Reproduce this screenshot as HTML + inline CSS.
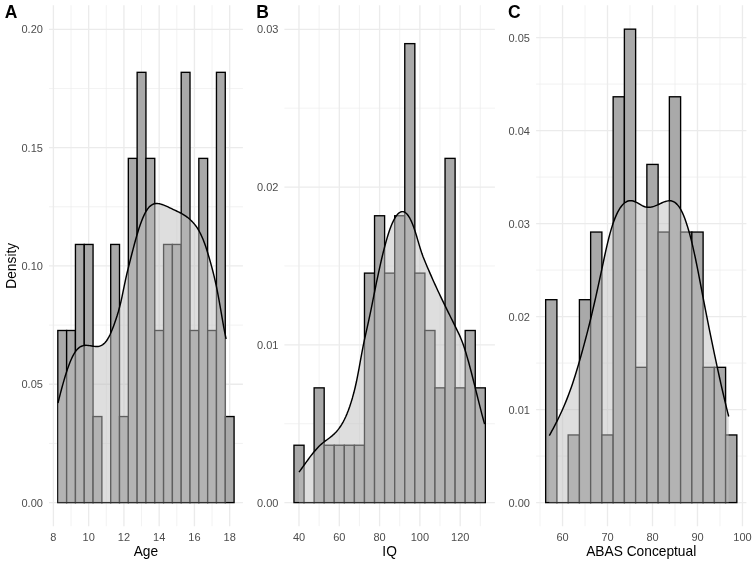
<!DOCTYPE html>
<html><head><meta charset="utf-8"><title>Histograms</title>
<style>
html,body{margin:0;padding:0;background:#fff;}
svg{display:block;font-family:"Liberation Sans",Arial,Helvetica,sans-serif;}
.mj{stroke:#ebebeb;stroke-width:1.33;}
.mn{stroke:#ebebeb;stroke-width:0.67;}
.bar{fill:#a9a9a9;stroke:#000;stroke-width:1.35;stroke-linejoin:miter;}
.dfill{fill:rgba(190,190,190,0.5);stroke:none;}
.dline{fill:none;stroke:#000;stroke-width:1.45;stroke-linejoin:round;stroke-linecap:butt;}
.tk{font-size:11px;fill:#4d4d4d;}
.ti{font-size:13.75px;fill:#000;}
.tag{font-size:17.5px;font-weight:bold;fill:#000;}
</style></head><body>
<svg width="756" height="564" viewBox="0 0 756 564">
<rect width="756" height="564" fill="#fff"/>
<line x1="49.0" x2="242.9" y1="443.44" y2="443.44" class="mn"/>
<line x1="49.0" x2="242.9" y1="325.11" y2="325.11" class="mn"/>
<line x1="49.0" x2="242.9" y1="206.79" y2="206.79" class="mn"/>
<line x1="49.0" x2="242.9" y1="88.46" y2="88.46" class="mn"/>
<line x1="71.03" x2="71.03" y1="5.2" y2="526.2" class="mn"/>
<line x1="106.29" x2="106.29" y1="5.2" y2="526.2" class="mn"/>
<line x1="141.54" x2="141.54" y1="5.2" y2="526.2" class="mn"/>
<line x1="176.80" x2="176.80" y1="5.2" y2="526.2" class="mn"/>
<line x1="212.05" x2="212.05" y1="5.2" y2="526.2" class="mn"/>
<line x1="49.0" x2="242.9" y1="502.60" y2="502.60" class="mj"/>
<line x1="49.0" x2="242.9" y1="384.28" y2="384.28" class="mj"/>
<line x1="49.0" x2="242.9" y1="265.95" y2="265.95" class="mj"/>
<line x1="49.0" x2="242.9" y1="147.63" y2="147.63" class="mj"/>
<line x1="49.0" x2="242.9" y1="29.30" y2="29.30" class="mj"/>
<line x1="53.41" x2="53.41" y1="5.2" y2="526.2" class="mj"/>
<line x1="88.66" x2="88.66" y1="5.2" y2="526.2" class="mj"/>
<line x1="123.92" x2="123.92" y1="5.2" y2="526.2" class="mj"/>
<line x1="159.17" x2="159.17" y1="5.2" y2="526.2" class="mj"/>
<line x1="194.43" x2="194.43" y1="5.2" y2="526.2" class="mj"/>
<line x1="229.68" x2="229.68" y1="5.2" y2="526.2" class="mj"/>
<rect x="57.81" y="330.49" width="8.81" height="172.11" class="bar"/>
<rect x="66.63" y="330.49" width="8.81" height="172.11" class="bar"/>
<rect x="75.44" y="244.44" width="8.81" height="258.16" class="bar"/>
<rect x="84.25" y="244.44" width="8.81" height="258.16" class="bar"/>
<rect x="93.07" y="416.55" width="8.81" height="86.05" class="bar"/>
<path d="M101.21,502.6H111.37" class="bar"/>
<rect x="110.70" y="244.44" width="8.81" height="258.16" class="bar"/>
<rect x="119.51" y="416.55" width="8.81" height="86.05" class="bar"/>
<rect x="128.32" y="158.38" width="8.81" height="344.22" class="bar"/>
<rect x="137.14" y="72.33" width="8.81" height="430.27" class="bar"/>
<rect x="145.95" y="158.38" width="8.81" height="344.22" class="bar"/>
<rect x="154.76" y="330.49" width="8.81" height="172.11" class="bar"/>
<rect x="163.58" y="244.44" width="8.81" height="258.16" class="bar"/>
<rect x="172.39" y="244.44" width="8.81" height="258.16" class="bar"/>
<rect x="181.20" y="72.33" width="8.81" height="430.27" class="bar"/>
<rect x="190.02" y="330.49" width="8.81" height="172.11" class="bar"/>
<rect x="198.83" y="158.38" width="8.81" height="344.22" class="bar"/>
<rect x="207.65" y="330.49" width="8.81" height="172.11" class="bar"/>
<rect x="216.46" y="72.33" width="8.81" height="430.27" class="bar"/>
<rect x="225.27" y="416.55" width="8.81" height="86.05" class="bar"/>
<path d="M58.00,402.96 L59.21,398.11 L60.42,393.39 L61.63,388.81 L62.84,384.39 L64.05,380.14 L65.26,376.08 L66.47,372.23 L67.67,368.61 L68.88,365.21 L70.09,362.07 L71.30,359.20 L72.51,356.61 L73.72,354.32 L74.93,352.33 L76.14,350.65 L77.35,349.25 L78.56,348.10 L79.77,347.18 L80.98,346.48 L82.19,345.97 L83.40,345.62 L84.61,345.42 L85.82,345.34 L87.02,345.36 L88.23,345.47 L89.44,345.63 L90.65,345.82 L91.86,346.03 L93.07,346.22 L94.28,346.39 L95.49,346.50 L96.70,346.52 L97.91,346.45 L99.12,346.24 L100.33,345.88 L101.54,345.35 L102.75,344.62 L103.96,343.67 L105.16,342.47 L106.37,341.00 L107.58,339.23 L108.79,337.15 L110.00,334.74 L111.21,332.04 L112.42,329.09 L113.63,325.95 L114.84,322.62 L116.05,319.09 L117.26,315.32 L118.47,311.24 L119.68,306.78 L120.89,301.84 L122.10,296.35 L123.31,290.47 L124.51,284.52 L125.72,278.80 L126.93,273.52 L128.14,268.56 L129.35,263.77 L130.56,259.03 L131.77,254.30 L132.98,249.62 L134.19,245.02 L135.40,240.56 L136.61,236.27 L137.82,232.18 L139.03,228.33 L140.24,224.74 L141.45,221.41 L142.65,218.36 L143.86,215.60 L145.07,213.14 L146.28,210.98 L147.49,209.13 L148.70,207.59 L149.91,206.33 L151.12,205.33 L152.33,204.57 L153.54,204.03 L154.75,203.69 L155.96,203.51 L157.17,203.49 L158.38,203.60 L159.59,203.81 L160.79,204.11 L162.00,204.47 L163.21,204.89 L164.42,205.35 L165.63,205.86 L166.84,206.40 L168.05,206.96 L169.26,207.54 L170.47,208.12 L171.68,208.70 L172.89,209.28 L174.10,209.85 L175.31,210.41 L176.52,210.97 L177.73,211.55 L178.94,212.14 L180.14,212.76 L181.35,213.40 L182.56,214.08 L183.77,214.81 L184.98,215.58 L186.19,216.41 L187.40,217.30 L188.61,218.26 L189.82,219.30 L191.03,220.42 L192.24,221.63 L193.45,222.94 L194.66,224.38 L195.87,225.96 L197.08,227.70 L198.28,229.63 L199.49,231.75 L200.70,234.10 L201.91,236.69 L203.12,239.54 L204.33,242.67 L205.54,246.10 L206.75,249.78 L207.96,253.68 L209.17,257.76 L210.38,261.97 L211.59,266.35 L212.80,270.95 L214.01,275.82 L215.22,281.02 L216.43,286.59 L217.63,292.58 L218.84,299.03 L220.05,305.87 L221.26,312.90 L222.47,319.93 L223.68,326.76 L224.89,333.19 L226.10,339.02 L226.10,502.6 L58.00,502.6 Z" class="dfill"/>
<path d="M58.00,402.96 L59.21,398.11 L60.42,393.39 L61.63,388.81 L62.84,384.39 L64.05,380.14 L65.26,376.08 L66.47,372.23 L67.67,368.61 L68.88,365.21 L70.09,362.07 L71.30,359.20 L72.51,356.61 L73.72,354.32 L74.93,352.33 L76.14,350.65 L77.35,349.25 L78.56,348.10 L79.77,347.18 L80.98,346.48 L82.19,345.97 L83.40,345.62 L84.61,345.42 L85.82,345.34 L87.02,345.36 L88.23,345.47 L89.44,345.63 L90.65,345.82 L91.86,346.03 L93.07,346.22 L94.28,346.39 L95.49,346.50 L96.70,346.52 L97.91,346.45 L99.12,346.24 L100.33,345.88 L101.54,345.35 L102.75,344.62 L103.96,343.67 L105.16,342.47 L106.37,341.00 L107.58,339.23 L108.79,337.15 L110.00,334.74 L111.21,332.04 L112.42,329.09 L113.63,325.95 L114.84,322.62 L116.05,319.09 L117.26,315.32 L118.47,311.24 L119.68,306.78 L120.89,301.84 L122.10,296.35 L123.31,290.47 L124.51,284.52 L125.72,278.80 L126.93,273.52 L128.14,268.56 L129.35,263.77 L130.56,259.03 L131.77,254.30 L132.98,249.62 L134.19,245.02 L135.40,240.56 L136.61,236.27 L137.82,232.18 L139.03,228.33 L140.24,224.74 L141.45,221.41 L142.65,218.36 L143.86,215.60 L145.07,213.14 L146.28,210.98 L147.49,209.13 L148.70,207.59 L149.91,206.33 L151.12,205.33 L152.33,204.57 L153.54,204.03 L154.75,203.69 L155.96,203.51 L157.17,203.49 L158.38,203.60 L159.59,203.81 L160.79,204.11 L162.00,204.47 L163.21,204.89 L164.42,205.35 L165.63,205.86 L166.84,206.40 L168.05,206.96 L169.26,207.54 L170.47,208.12 L171.68,208.70 L172.89,209.28 L174.10,209.85 L175.31,210.41 L176.52,210.97 L177.73,211.55 L178.94,212.14 L180.14,212.76 L181.35,213.40 L182.56,214.08 L183.77,214.81 L184.98,215.58 L186.19,216.41 L187.40,217.30 L188.61,218.26 L189.82,219.30 L191.03,220.42 L192.24,221.63 L193.45,222.94 L194.66,224.38 L195.87,225.96 L197.08,227.70 L198.28,229.63 L199.49,231.75 L200.70,234.10 L201.91,236.69 L203.12,239.54 L204.33,242.67 L205.54,246.10 L206.75,249.78 L207.96,253.68 L209.17,257.76 L210.38,261.97 L211.59,266.35 L212.80,270.95 L214.01,275.82 L215.22,281.02 L216.43,286.59 L217.63,292.58 L218.84,299.03 L220.05,305.87 L221.26,312.90 L222.47,319.93 L223.68,326.76 L224.89,333.19 L226.10,339.02" class="dline"/>
<text x="42.9" y="506.5" class="tk" text-anchor="end">0.00</text>
<text x="42.9" y="388.2" class="tk" text-anchor="end">0.05</text>
<text x="42.9" y="269.9" class="tk" text-anchor="end">0.10</text>
<text x="42.9" y="151.5" class="tk" text-anchor="end">0.15</text>
<text x="42.9" y="33.2" class="tk" text-anchor="end">0.20</text>
<text x="53.4" y="540.8" class="tk" text-anchor="middle">8</text>
<text x="88.7" y="540.8" class="tk" text-anchor="middle">10</text>
<text x="123.9" y="540.8" class="tk" text-anchor="middle">12</text>
<text x="159.2" y="540.8" class="tk" text-anchor="middle">14</text>
<text x="194.4" y="540.8" class="tk" text-anchor="middle">16</text>
<text x="229.7" y="540.8" class="tk" text-anchor="middle">18</text>
<text x="145.9" y="555.9" class="ti" text-anchor="middle">Age</text>
<text x="4.8" y="17.7" class="tag">A</text>
<text transform="translate(16.3,265.8) rotate(-90)" class="ti" text-anchor="middle">Density</text>
<line x1="284.4" x2="494.9" y1="423.72" y2="423.72" class="mn"/>
<line x1="284.4" x2="494.9" y1="265.95" y2="265.95" class="mn"/>
<line x1="284.4" x2="494.9" y1="108.18" y2="108.18" class="mn"/>
<line x1="319.15" x2="319.15" y1="5.2" y2="526.2" class="mn"/>
<line x1="359.43" x2="359.43" y1="5.2" y2="526.2" class="mn"/>
<line x1="399.72" x2="399.72" y1="5.2" y2="526.2" class="mn"/>
<line x1="440.01" x2="440.01" y1="5.2" y2="526.2" class="mn"/>
<line x1="480.30" x2="480.30" y1="5.2" y2="526.2" class="mn"/>
<line x1="284.4" x2="494.9" y1="502.60" y2="502.60" class="mj"/>
<line x1="284.4" x2="494.9" y1="344.83" y2="344.83" class="mj"/>
<line x1="284.4" x2="494.9" y1="187.06" y2="187.06" class="mj"/>
<line x1="284.4" x2="494.9" y1="29.29" y2="29.29" class="mj"/>
<line x1="299.00" x2="299.00" y1="5.2" y2="526.2" class="mj"/>
<line x1="339.29" x2="339.29" y1="5.2" y2="526.2" class="mj"/>
<line x1="379.58" x2="379.58" y1="5.2" y2="526.2" class="mj"/>
<line x1="419.87" x2="419.87" y1="5.2" y2="526.2" class="mj"/>
<line x1="460.15" x2="460.15" y1="5.2" y2="526.2" class="mj"/>
<rect x="293.97" y="445.23" width="10.07" height="57.37" class="bar"/>
<path d="M303.37,502.6H314.78" class="bar"/>
<rect x="314.11" y="387.86" width="10.07" height="114.74" class="bar"/>
<rect x="324.18" y="445.23" width="10.07" height="57.37" class="bar"/>
<rect x="334.26" y="445.23" width="10.07" height="57.37" class="bar"/>
<rect x="344.33" y="445.23" width="10.07" height="57.37" class="bar"/>
<rect x="354.40" y="445.23" width="10.07" height="57.37" class="bar"/>
<rect x="364.47" y="273.12" width="10.07" height="229.48" class="bar"/>
<rect x="374.54" y="215.75" width="10.07" height="286.85" class="bar"/>
<rect x="384.61" y="273.12" width="10.07" height="229.48" class="bar"/>
<rect x="394.69" y="215.75" width="10.07" height="286.85" class="bar"/>
<rect x="404.76" y="43.63" width="10.07" height="458.97" class="bar"/>
<rect x="414.83" y="273.12" width="10.07" height="229.48" class="bar"/>
<rect x="424.90" y="330.49" width="10.07" height="172.11" class="bar"/>
<rect x="434.97" y="387.86" width="10.07" height="114.74" class="bar"/>
<rect x="445.04" y="158.37" width="10.07" height="344.23" class="bar"/>
<rect x="455.12" y="387.86" width="10.07" height="114.74" class="bar"/>
<rect x="465.19" y="330.49" width="10.07" height="172.11" class="bar"/>
<rect x="475.26" y="387.86" width="10.07" height="114.74" class="bar"/>
<path d="M299.00,472.18 L300.34,470.35 L301.67,468.50 L303.01,466.64 L304.34,464.77 L305.68,462.91 L307.01,461.06 L308.35,459.23 L309.68,457.43 L311.02,455.67 L312.35,453.95 L313.69,452.29 L315.02,450.68 L316.36,449.15 L317.69,447.69 L319.03,446.31 L320.36,445.03 L321.70,443.85 L323.03,442.74 L324.37,441.70 L325.71,440.69 L327.04,439.71 L328.38,438.73 L329.71,437.72 L331.05,436.68 L332.38,435.57 L333.72,434.39 L335.05,433.10 L336.39,431.69 L337.72,430.14 L339.06,428.42 L340.39,426.52 L341.73,424.42 L343.06,422.10 L344.40,419.53 L345.73,416.70 L347.07,413.59 L348.40,410.18 L349.74,406.44 L351.07,402.36 L352.41,397.92 L353.75,393.06 L355.08,387.71 L356.42,381.78 L357.75,375.20 L359.09,368.02 L360.42,360.58 L361.76,353.27 L363.09,346.40 L364.43,339.96 L365.76,333.81 L367.10,327.81 L368.43,321.82 L369.77,315.71 L371.10,309.33 L372.44,302.71 L373.77,295.98 L375.11,289.28 L376.44,282.72 L377.78,276.31 L379.12,270.08 L380.45,264.06 L381.79,258.27 L383.12,252.72 L384.46,247.46 L385.79,242.48 L387.13,237.83 L388.46,233.52 L389.80,229.58 L391.13,226.02 L392.47,222.83 L393.80,220.04 L395.14,217.63 L396.47,215.62 L397.81,214.01 L399.14,212.80 L400.48,212.00 L401.81,211.62 L403.15,211.65 L404.48,212.11 L405.82,212.99 L407.16,214.30 L408.49,216.05 L409.83,218.24 L411.16,220.87 L412.50,223.95 L413.83,227.49 L415.17,231.48 L416.50,235.82 L417.84,240.34 L419.17,244.89 L420.51,249.29 L421.84,253.37 L423.18,257.03 L424.51,260.35 L425.85,263.52 L427.18,266.66 L428.52,269.77 L429.85,272.86 L431.19,275.91 L432.53,278.94 L433.86,281.93 L435.20,284.89 L436.53,287.81 L437.87,290.69 L439.20,293.54 L440.54,296.36 L441.87,299.16 L443.21,301.93 L444.54,304.68 L445.88,307.41 L447.21,310.13 L448.55,312.84 L449.88,315.54 L451.22,318.24 L452.55,320.94 L453.89,323.65 L455.22,326.36 L456.56,329.08 L457.89,331.82 L459.23,334.65 L460.57,337.66 L461.90,340.95 L463.24,344.58 L464.57,348.55 L465.91,352.81 L467.24,357.33 L468.58,362.06 L469.91,366.98 L471.25,372.04 L472.58,377.23 L473.92,382.51 L475.25,387.85 L476.59,393.22 L477.92,398.59 L479.26,403.92 L480.59,409.17 L481.93,414.31 L483.26,419.30 L484.60,424.10 L484.60,502.6 L299.00,502.6 Z" class="dfill"/>
<path d="M299.00,472.18 L300.34,470.35 L301.67,468.50 L303.01,466.64 L304.34,464.77 L305.68,462.91 L307.01,461.06 L308.35,459.23 L309.68,457.43 L311.02,455.67 L312.35,453.95 L313.69,452.29 L315.02,450.68 L316.36,449.15 L317.69,447.69 L319.03,446.31 L320.36,445.03 L321.70,443.85 L323.03,442.74 L324.37,441.70 L325.71,440.69 L327.04,439.71 L328.38,438.73 L329.71,437.72 L331.05,436.68 L332.38,435.57 L333.72,434.39 L335.05,433.10 L336.39,431.69 L337.72,430.14 L339.06,428.42 L340.39,426.52 L341.73,424.42 L343.06,422.10 L344.40,419.53 L345.73,416.70 L347.07,413.59 L348.40,410.18 L349.74,406.44 L351.07,402.36 L352.41,397.92 L353.75,393.06 L355.08,387.71 L356.42,381.78 L357.75,375.20 L359.09,368.02 L360.42,360.58 L361.76,353.27 L363.09,346.40 L364.43,339.96 L365.76,333.81 L367.10,327.81 L368.43,321.82 L369.77,315.71 L371.10,309.33 L372.44,302.71 L373.77,295.98 L375.11,289.28 L376.44,282.72 L377.78,276.31 L379.12,270.08 L380.45,264.06 L381.79,258.27 L383.12,252.72 L384.46,247.46 L385.79,242.48 L387.13,237.83 L388.46,233.52 L389.80,229.58 L391.13,226.02 L392.47,222.83 L393.80,220.04 L395.14,217.63 L396.47,215.62 L397.81,214.01 L399.14,212.80 L400.48,212.00 L401.81,211.62 L403.15,211.65 L404.48,212.11 L405.82,212.99 L407.16,214.30 L408.49,216.05 L409.83,218.24 L411.16,220.87 L412.50,223.95 L413.83,227.49 L415.17,231.48 L416.50,235.82 L417.84,240.34 L419.17,244.89 L420.51,249.29 L421.84,253.37 L423.18,257.03 L424.51,260.35 L425.85,263.52 L427.18,266.66 L428.52,269.77 L429.85,272.86 L431.19,275.91 L432.53,278.94 L433.86,281.93 L435.20,284.89 L436.53,287.81 L437.87,290.69 L439.20,293.54 L440.54,296.36 L441.87,299.16 L443.21,301.93 L444.54,304.68 L445.88,307.41 L447.21,310.13 L448.55,312.84 L449.88,315.54 L451.22,318.24 L452.55,320.94 L453.89,323.65 L455.22,326.36 L456.56,329.08 L457.89,331.82 L459.23,334.65 L460.57,337.66 L461.90,340.95 L463.24,344.58 L464.57,348.55 L465.91,352.81 L467.24,357.33 L468.58,362.06 L469.91,366.98 L471.25,372.04 L472.58,377.23 L473.92,382.51 L475.25,387.85 L476.59,393.22 L477.92,398.59 L479.26,403.92 L480.59,409.17 L481.93,414.31 L483.26,419.30 L484.60,424.10" class="dline"/>
<text x="278.4" y="506.5" class="tk" text-anchor="end">0.00</text>
<text x="278.4" y="348.7" class="tk" text-anchor="end">0.01</text>
<text x="278.4" y="191.0" class="tk" text-anchor="end">0.02</text>
<text x="278.4" y="33.2" class="tk" text-anchor="end">0.03</text>
<text x="299.0" y="540.8" class="tk" text-anchor="middle">40</text>
<text x="339.3" y="540.8" class="tk" text-anchor="middle">60</text>
<text x="379.6" y="540.8" class="tk" text-anchor="middle">80</text>
<text x="419.9" y="540.8" class="tk" text-anchor="middle">100</text>
<text x="460.2" y="540.8" class="tk" text-anchor="middle">120</text>
<text x="389.6" y="555.9" class="ti" text-anchor="middle">IQ</text>
<text x="256.2" y="17.7" class="tag">B</text>
<line x1="536.1" x2="746.4" y1="456.10" y2="456.10" class="mn"/>
<line x1="536.1" x2="746.4" y1="363.10" y2="363.10" class="mn"/>
<line x1="536.1" x2="746.4" y1="270.10" y2="270.10" class="mn"/>
<line x1="536.1" x2="746.4" y1="177.10" y2="177.10" class="mn"/>
<line x1="536.1" x2="746.4" y1="84.10" y2="84.10" class="mn"/>
<line x1="540.04" x2="540.04" y1="5.2" y2="526.2" class="mn"/>
<line x1="585.02" x2="585.02" y1="5.2" y2="526.2" class="mn"/>
<line x1="630.00" x2="630.00" y1="5.2" y2="526.2" class="mn"/>
<line x1="674.99" x2="674.99" y1="5.2" y2="526.2" class="mn"/>
<line x1="719.97" x2="719.97" y1="5.2" y2="526.2" class="mn"/>
<line x1="536.1" x2="746.4" y1="502.60" y2="502.60" class="mj"/>
<line x1="536.1" x2="746.4" y1="409.60" y2="409.60" class="mj"/>
<line x1="536.1" x2="746.4" y1="316.60" y2="316.60" class="mj"/>
<line x1="536.1" x2="746.4" y1="223.60" y2="223.60" class="mj"/>
<line x1="536.1" x2="746.4" y1="130.60" y2="130.60" class="mj"/>
<line x1="536.1" x2="746.4" y1="37.60" y2="37.60" class="mj"/>
<line x1="562.53" x2="562.53" y1="5.2" y2="526.2" class="mj"/>
<line x1="607.51" x2="607.51" y1="5.2" y2="526.2" class="mj"/>
<line x1="652.50" x2="652.50" y1="5.2" y2="526.2" class="mj"/>
<line x1="697.48" x2="697.48" y1="5.2" y2="526.2" class="mj"/>
<line x1="742.46" x2="742.46" y1="5.2" y2="526.2" class="mj"/>
<rect x="545.66" y="299.69" width="11.25" height="202.91" class="bar"/>
<path d="M556.24,502.6H568.82" class="bar"/>
<rect x="568.15" y="434.96" width="11.25" height="67.64" class="bar"/>
<rect x="579.40" y="299.69" width="11.25" height="202.91" class="bar"/>
<rect x="590.64" y="232.05" width="11.25" height="270.55" class="bar"/>
<rect x="601.89" y="434.96" width="11.25" height="67.64" class="bar"/>
<rect x="613.14" y="96.78" width="11.25" height="405.82" class="bar"/>
<rect x="624.38" y="29.15" width="11.25" height="473.45" class="bar"/>
<rect x="635.63" y="367.33" width="11.25" height="135.27" class="bar"/>
<rect x="646.87" y="164.42" width="11.25" height="338.18" class="bar"/>
<rect x="658.12" y="232.05" width="11.25" height="270.55" class="bar"/>
<rect x="669.36" y="96.78" width="11.25" height="405.82" class="bar"/>
<rect x="680.61" y="232.05" width="11.25" height="270.55" class="bar"/>
<rect x="691.86" y="232.05" width="11.25" height="270.55" class="bar"/>
<rect x="703.10" y="367.33" width="11.25" height="135.27" class="bar"/>
<rect x="714.35" y="367.33" width="11.25" height="135.27" class="bar"/>
<rect x="725.59" y="434.96" width="11.25" height="67.64" class="bar"/>
<path d="M549.30,435.63 L550.59,433.29 L551.88,430.93 L553.17,428.54 L554.46,426.10 L555.75,423.61 L557.04,421.07 L558.33,418.46 L559.63,415.78 L560.92,413.03 L562.21,410.19 L563.50,407.26 L564.79,404.24 L566.08,401.11 L567.37,397.87 L568.66,394.51 L569.95,391.03 L571.24,387.42 L572.53,383.67 L573.82,379.77 L575.11,375.73 L576.40,371.56 L577.69,367.27 L578.98,362.86 L580.28,358.35 L581.57,353.76 L582.86,349.08 L584.15,344.34 L585.44,339.52 L586.73,334.60 L588.02,329.59 L589.31,324.48 L590.60,319.24 L591.89,313.88 L593.18,308.38 L594.47,302.77 L595.76,297.05 L597.05,291.24 L598.34,285.34 L599.64,279.38 L600.93,273.37 L602.22,267.31 L603.51,261.25 L604.80,255.27 L606.09,249.43 L607.38,243.82 L608.67,238.53 L609.96,233.61 L611.25,229.11 L612.54,225.00 L613.83,221.26 L615.12,217.88 L616.41,214.86 L617.70,212.16 L618.99,209.79 L620.29,207.72 L621.58,205.95 L622.87,204.46 L624.16,203.24 L625.45,202.27 L626.74,201.54 L628.03,201.04 L629.32,200.75 L630.61,200.66 L631.90,200.76 L633.19,201.04 L634.48,201.47 L635.77,202.04 L637.06,202.71 L638.35,203.44 L639.65,204.19 L640.94,204.94 L642.23,205.63 L643.52,206.23 L644.81,206.71 L646.10,207.04 L647.39,207.22 L648.68,207.26 L649.97,207.19 L651.26,207.01 L652.55,206.73 L653.84,206.36 L655.13,205.91 L656.42,205.40 L657.71,204.84 L659.01,204.24 L660.30,203.63 L661.59,203.02 L662.88,202.44 L664.17,201.91 L665.46,201.46 L666.75,201.10 L668.04,200.86 L669.33,200.75 L670.62,200.82 L671.91,201.06 L673.20,201.52 L674.49,202.20 L675.78,203.14 L677.07,204.35 L678.36,205.86 L679.66,207.69 L680.95,209.86 L682.24,212.39 L683.53,215.29 L684.82,218.56 L686.11,222.18 L687.40,226.16 L688.69,230.48 L689.98,235.13 L691.27,240.12 L692.56,245.44 L693.85,251.07 L695.14,257.02 L696.43,263.23 L697.72,269.67 L699.02,276.28 L700.31,282.99 L701.60,289.76 L702.89,296.52 L704.18,303.24 L705.47,309.87 L706.76,316.43 L708.05,322.92 L709.34,329.33 L710.63,335.67 L711.92,341.95 L713.21,348.16 L714.50,354.30 L715.79,360.39 L717.08,366.42 L718.37,372.39 L719.67,378.28 L720.96,384.06 L722.25,389.72 L723.54,395.28 L724.83,400.73 L726.12,406.08 L727.41,411.34 L728.70,416.52 L728.70,502.6 L549.30,502.6 Z" class="dfill"/>
<path d="M549.30,435.63 L550.59,433.29 L551.88,430.93 L553.17,428.54 L554.46,426.10 L555.75,423.61 L557.04,421.07 L558.33,418.46 L559.63,415.78 L560.92,413.03 L562.21,410.19 L563.50,407.26 L564.79,404.24 L566.08,401.11 L567.37,397.87 L568.66,394.51 L569.95,391.03 L571.24,387.42 L572.53,383.67 L573.82,379.77 L575.11,375.73 L576.40,371.56 L577.69,367.27 L578.98,362.86 L580.28,358.35 L581.57,353.76 L582.86,349.08 L584.15,344.34 L585.44,339.52 L586.73,334.60 L588.02,329.59 L589.31,324.48 L590.60,319.24 L591.89,313.88 L593.18,308.38 L594.47,302.77 L595.76,297.05 L597.05,291.24 L598.34,285.34 L599.64,279.38 L600.93,273.37 L602.22,267.31 L603.51,261.25 L604.80,255.27 L606.09,249.43 L607.38,243.82 L608.67,238.53 L609.96,233.61 L611.25,229.11 L612.54,225.00 L613.83,221.26 L615.12,217.88 L616.41,214.86 L617.70,212.16 L618.99,209.79 L620.29,207.72 L621.58,205.95 L622.87,204.46 L624.16,203.24 L625.45,202.27 L626.74,201.54 L628.03,201.04 L629.32,200.75 L630.61,200.66 L631.90,200.76 L633.19,201.04 L634.48,201.47 L635.77,202.04 L637.06,202.71 L638.35,203.44 L639.65,204.19 L640.94,204.94 L642.23,205.63 L643.52,206.23 L644.81,206.71 L646.10,207.04 L647.39,207.22 L648.68,207.26 L649.97,207.19 L651.26,207.01 L652.55,206.73 L653.84,206.36 L655.13,205.91 L656.42,205.40 L657.71,204.84 L659.01,204.24 L660.30,203.63 L661.59,203.02 L662.88,202.44 L664.17,201.91 L665.46,201.46 L666.75,201.10 L668.04,200.86 L669.33,200.75 L670.62,200.82 L671.91,201.06 L673.20,201.52 L674.49,202.20 L675.78,203.14 L677.07,204.35 L678.36,205.86 L679.66,207.69 L680.95,209.86 L682.24,212.39 L683.53,215.29 L684.82,218.56 L686.11,222.18 L687.40,226.16 L688.69,230.48 L689.98,235.13 L691.27,240.12 L692.56,245.44 L693.85,251.07 L695.14,257.02 L696.43,263.23 L697.72,269.67 L699.02,276.28 L700.31,282.99 L701.60,289.76 L702.89,296.52 L704.18,303.24 L705.47,309.87 L706.76,316.43 L708.05,322.92 L709.34,329.33 L710.63,335.67 L711.92,341.95 L713.21,348.16 L714.50,354.30 L715.79,360.39 L717.08,366.42 L718.37,372.39 L719.67,378.28 L720.96,384.06 L722.25,389.72 L723.54,395.28 L724.83,400.73 L726.12,406.08 L727.41,411.34 L728.70,416.52" class="dline"/>
<text x="529.9" y="506.5" class="tk" text-anchor="end">0.00</text>
<text x="529.9" y="413.5" class="tk" text-anchor="end">0.01</text>
<text x="529.9" y="320.5" class="tk" text-anchor="end">0.02</text>
<text x="529.9" y="227.5" class="tk" text-anchor="end">0.03</text>
<text x="529.9" y="134.5" class="tk" text-anchor="end">0.04</text>
<text x="529.9" y="41.5" class="tk" text-anchor="end">0.05</text>
<text x="562.5" y="540.8" class="tk" text-anchor="middle">60</text>
<text x="607.5" y="540.8" class="tk" text-anchor="middle">70</text>
<text x="652.5" y="540.8" class="tk" text-anchor="middle">80</text>
<text x="697.5" y="540.8" class="tk" text-anchor="middle">90</text>
<text x="742.5" y="540.8" class="tk" text-anchor="middle">100</text>
<text x="641.2" y="555.9" class="ti" text-anchor="middle">ABAS Conceptual</text>
<text x="508.0" y="17.7" class="tag">C</text>
</svg>
</body></html>
